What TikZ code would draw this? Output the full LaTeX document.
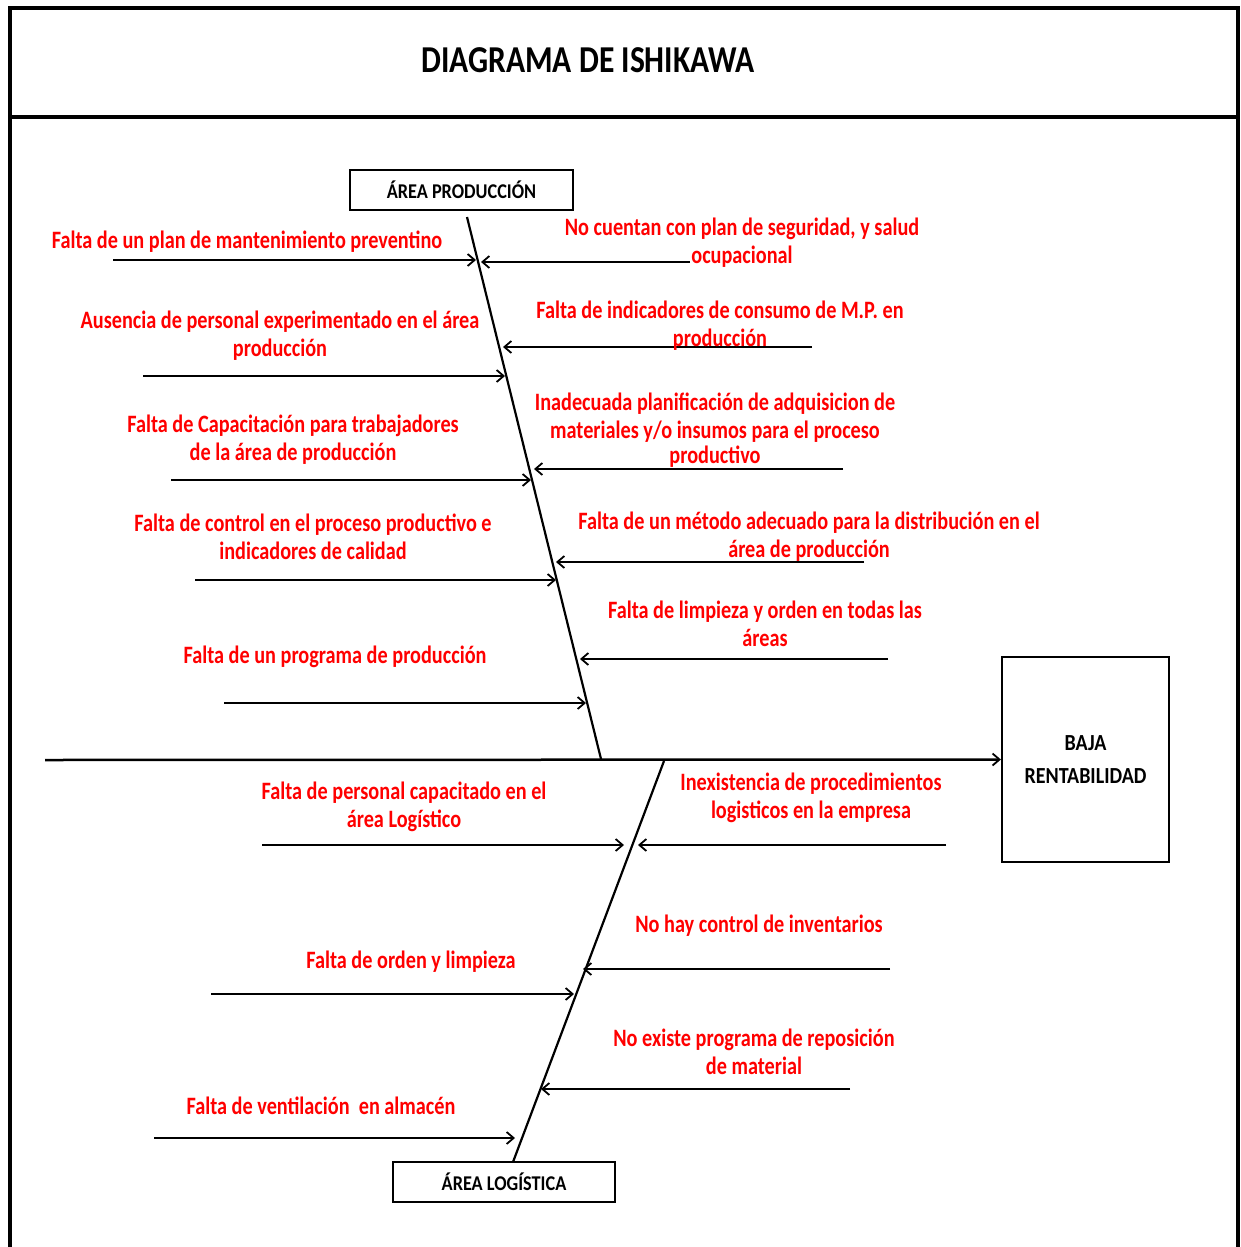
\documentclass[tikz,border=0pt]{standalone}
\usepackage{fontspec}
\newfontfamily\cfr[FakeStretch=0.81]{Carlito}
\newfontfamily\cft[FakeStretch=0.83]{Carlito}
\newfontfamily\cfb[FakeStretch=0.87]{Carlito}
\usetikzlibrary{arrows.meta}
\begin{document}
\begin{tikzpicture}[x=1pt,y=-1pt,
  cause/.style={font=\cfr\bfseries\fontsize{25}{28}\selectfont, text=red, align=center, anchor=base, inner sep=0pt},
  bone/.style={line width=2.4pt, -{Straight Barb[length=7pt,width=12pt,line width=1.8pt]}},
  spine/.style={line width=2.2pt},
  boxlabel/.style={draw, line width=2.2pt, font=\cfb\bfseries\fontsize{21}{24}\selectfont, inner sep=0pt},
  frame/.style={line width=4pt}]
\useasboundingbox (0,0) rectangle (1240,1247);
% frame
\draw[frame] (10,1247) -- (10,8) -- (1238,8) -- (1238,1247);
\draw[frame] (10,117) -- (1238,117);
\node[font=\cft\bfseries\fontsize{38}{40}\selectfont] (title) at (588,60) {DIAGRAMA DE ISHIKAWA};
% boxes
\node[boxlabel, minimum width=223pt, minimum height=40pt] (prod) at (461.5,190) {ÁREA PRODUCCIÓN};
\node[boxlabel, minimum width=222pt, minimum height=40pt] (logi) at (504,1182) {ÁREA LOGÍSTICA};
\node[draw, line width=2.2pt, minimum width=167pt, minimum height=205pt, align=center,
      font=\cfb\bfseries\fontsize{23}{33}\selectfont, inner sep=0pt] (effect) at (1085.5,759.5) {BAJA\\RENTABILIDAD};
% main line
\coordinate (mstart) at (45,760);
\draw[line width=2.5pt, -{Straight Barb[length=7pt,width=12pt,line width=1.8pt]}] (mstart) -- (effect.west);
% spines
\coordinate (ptop) at (467,217);
\coordinate (pbot) at (601,759);
\coordinate (ltop) at (664,761);
\coordinate (lbot) at (513,1162);
\draw[spine] (ptop) -- (pbot);
\draw[spine] (ltop) -- (lbot);
% upper left causes
\coordinate (a1) at (113,260); \coordinate (a1e) at (476,260);
\coordinate (a2) at (143,376); \coordinate (a2e) at (505,376);
\coordinate (a3) at (171,480); \coordinate (a3e) at (531,480);
\coordinate (a4) at (195,580); \coordinate (a4e) at (556,580);
\coordinate (a5) at (224,703); \coordinate (a5e) at (586,703);
\foreach \i in {1,...,5} \draw[bone] (a\i) -- (a\i e);
% upper right causes
\coordinate (b1) at (690,262); \coordinate (b1e) at (481,262);
\coordinate (b2) at (812,347); \coordinate (b2e) at (503,347);
\coordinate (b3) at (843,469); \coordinate (b3e) at (534,469);
\coordinate (b4) at (864,562); \coordinate (b4e) at (556,562);
\coordinate (b5) at (888,659); \coordinate (b5e) at (580,659);
\foreach \i in {1,...,5} \draw[bone] (b\i) -- (b\i e);
% lower left causes
\coordinate (c1) at (262,845); \coordinate (c1e) at (624,845);
\coordinate (c2) at (211,994); \coordinate (c2e) at (574,994);
\coordinate (c3) at (154,1138); \coordinate (c3e) at (515,1138);
\foreach \i in {1,...,3} \draw[bone] (c\i) -- (c\i e);
% lower right causes
\coordinate (d1) at (946,845); \coordinate (d1e) at (638,845);
\coordinate (d2) at (890,969); \coordinate (d2e) at (583,969);
\coordinate (d3) at (850,1089); \coordinate (d3e) at (541,1089);
\foreach \i in {1,...,3} \draw[bone] (d\i) -- (d\i e);
% texts (anchor = baseline of last line)
\node[cause] (ta1) at (247,248) {Falta de un plan de mantenimiento preventino};
\node[cause] (ta2) at (280,356) {Ausencia de personal experimentado en el área\\producción};
\node[cause] (ta3) at (293,460) {Falta de Capacitación para trabajadores\\de la área de producción};
\node[cause] (ta4) at (313,559) {Falta de control en el proceso productivo e\\indicadores de calidad};
\node[cause] (ta5) at (335,663) {Falta de un programa de producción};
\node[cause] (tb1) at (742,263) {No cuentan con plan de seguridad, y salud\\ocupacional};
\node[cause] (tb2) at (720,346) {Falta de indicadores de consumo de M.P. en\\producción};
\node[cause] (tb3) at (715,463) {Inadecuada planificación de adquisicion de\\materiales y/o insumos para el proceso\\[-3pt]productivo};
\node[cause] (tb4) at (809,557) {Falta de un método adecuado para la distribución en el\\área de producción};
\node[cause] (tb5) at (765,646) {Falta de limpieza y orden en todas las\\áreas};
\node[cause] (tc1) at (404,827) {Falta de personal capacitado en el\\área Logístico};
\node[cause] (tc2) at (411,968) {Falta de orden y limpieza};
\node[cause] (tc3) at (321,1114) {Falta de ventilación\ \ en almacén};
\node[cause] (td1) at (811,818) {Inexistencia de procedimientos\\logisticos en la empresa};
\node[cause] (td2) at (759,932) {No hay control de inventarios};
\node[cause] (td3) at (754,1074) {No existe programa de reposición\\de material};
\end{tikzpicture}
\end{document}
